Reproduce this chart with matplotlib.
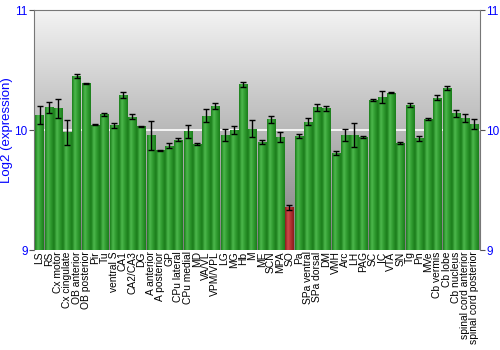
import numpy as np
import matplotlib
matplotlib.use("Agg")
import matplotlib.pyplot as plt
from matplotlib.colors import LinearSegmentedColormap

plt.rcParams["font.family"] = ["Liberation Sans", "DejaVu Sans"]

regions = ["LS", "RS", "Cx motor", "Cx cingulate", "OB anterior", "OB posterior", "Pir", "Tu",
           "ventral S", "CA1", "CA2/CA3", "DG", "A anterior", "A posterior", "GP", "CPu lateral",
           "CPu medial", "MD", "VA/VL", "VPM/VPL", "LG", "MG", "Hb", "M", "ME", "SCN", "MPA",
           "SO", "Pa", "SPa ventral", "SPa dorsal", "DM", "VMH", "Arc", "LH", "PAG", "SC", "IC",
           "VTA", "SN", "Tg", "Pn", "MVe", "Cb vermis", "Cb lobe", "Cb nucleus",
           "spinal cord anterior", "spinal cord posterior"]
expr = [10.125, 10.19, 10.18, 9.98, 10.45, 10.39, 10.045, 10.13,
        10.04, 10.29, 10.11, 10.03, 9.955, 9.83, 9.87, 9.92,
        9.99, 9.88, 10.12, 10.2, 9.96, 10.0, 10.38, 10.01, 9.9, 10.09, 9.94,
        9.355, 9.95, 10.07, 10.19, 10.18, 9.81, 9.955, 9.96, 9.94, 10.25, 10.275,
        10.31, 9.89, 10.21, 9.93, 10.09, 10.27, 10.35, 10.14,
        10.1, 10.05]
err = [0.075, 0.045, 0.08, 0.105, 0.015, 0.005, 0.005, 0.015,
       0.02, 0.025, 0.02, 0.005, 0.12, 0.005, 0.02, 0.01,
       0.055, 0.008, 0.057, 0.025, 0.05, 0.03, 0.02, 0.07, 0.015, 0.03, 0.04,
       0.02, 0.02, 0.03, 0.03, 0.02, 0.015, 0.05, 0.1, 0.01, 0.01, 0.05,
       0.005, 0.01, 0.015, 0.02, 0.01, 0.02, 0.02, 0.03,
       0.03, 0.04]
highlight = ["SO"]

fig = plt.figure(figsize=(5, 3.5), dpi=100)
ax = fig.add_axes([0.068, 0.2857, 0.892, 0.6857])
x = np.arange(len(regions))
ax.set_xlim(-0.6, len(regions) - 0.4)
ax.set_ylim(9, 11)

# background gradient
bg = LinearSegmentedColormap.from_list("bg", ["#7e7e7e", "#f3f3f3"])
ax.imshow(np.linspace(0, 1, 256).reshape(-1, 1), cmap=bg, aspect="auto",
          extent=[0, 1, 0, 1], transform=ax.transAxes, origin="lower", zorder=0)
ax.axhline(10, color="white", lw=1.2, zorder=1)

green = LinearSegmentedColormap.from_list("g", ["#1b7d1b", "#4cb84c", "#2f9a2f", "#1b7d1b"])
red = LinearSegmentedColormap.from_list("r", ["#8a1c1c", "#cc4a4a", "#b03030", "#8a1c1c"])
bars = ax.bar(x, np.array(expr) - 9, bottom=9, width=0.88, color="#2a8f2a", zorder=2)
grad = np.linspace(0, 1, 64).reshape(1, -1)
for b, name in zip(bars, regions):
    cm = red if name in highlight else green
    im = ax.imshow(grad, cmap=cm, aspect="auto", zorder=2.5,
                   extent=[b.get_x(), b.get_x() + b.get_width(), 9, 9 + b.get_height()])
    im.set_clip_path(b)
ax.errorbar(x, expr, yerr=err, fmt="none", ecolor="black", elinewidth=1,
            capsize=2.2, capthick=1, zorder=3)

ax.set_xticks(x)
ax.set_xticklabels(regions, rotation=90, fontsize=7.4)
ax.tick_params(axis="x", length=0, pad=1)
ax.set_yticks([9, 10, 11])
ax.tick_params(axis="y", colors="#555555", labelcolor="blue", labelsize=8.5, pad=1,
               left=True, right=True, labelleft=True, labelright=True, length=3.5, direction="out")
ax.set_ylabel("Log2 (expression)", color="blue", fontsize=9.5, labelpad=1)
for s in ax.spines.values():
    s.set_color("#777777")
ax.spines["bottom"].set_visible(False)

fig.savefig("out.png", dpi=100)
